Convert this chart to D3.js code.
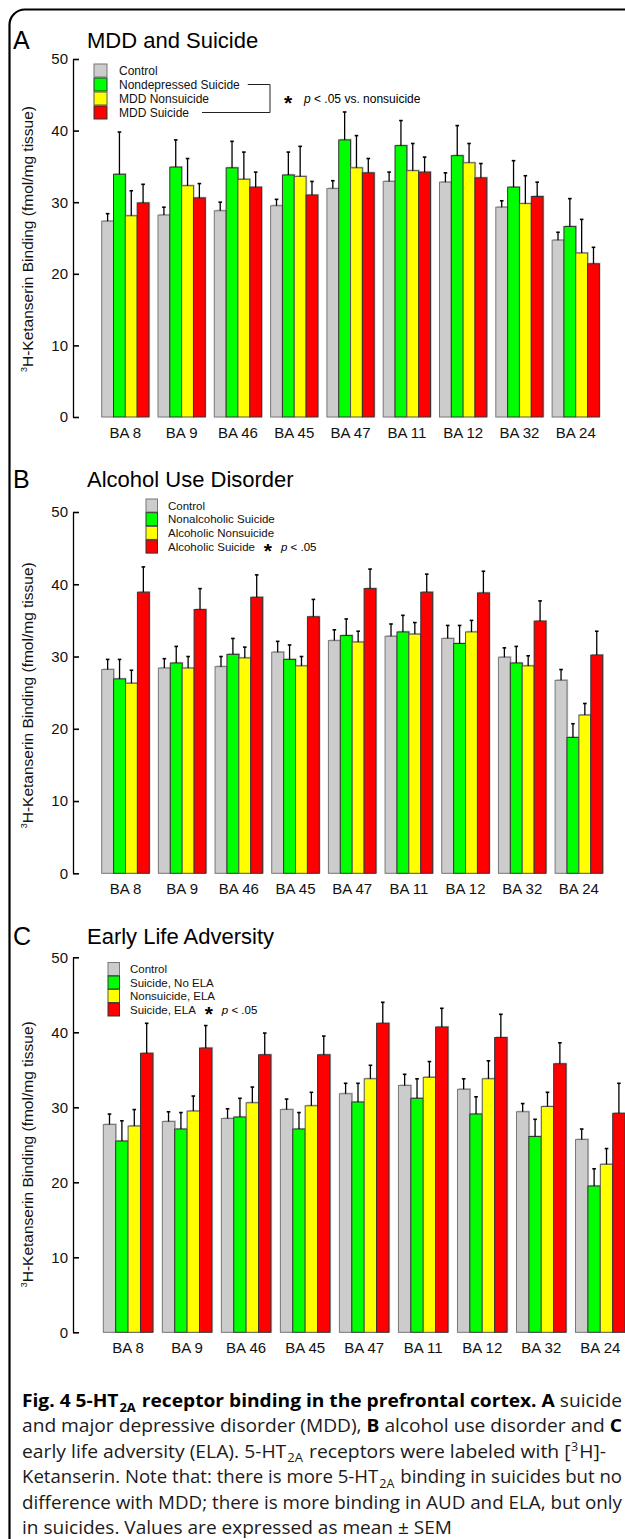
<!DOCTYPE html>
<html>
<head>
<meta charset="utf-8">
<script src="https://cdn.jsdelivr.net/npm/d3@7"></script>
<style>
  body { margin: 0; background: #fff; }
  svg { display: block; }
</style>
</head>
<body>
<script>
// ---- data ----
const regions = ['BA 8', 'BA 9', 'BA 46', 'BA 45', 'BA 47', 'BA 11', 'BA 12', 'BA 32', 'BA 24'];
const seriesColors = ['#cccccc', '#00ff00', '#ffff00', '#ff0000'];
const seriesStrokes = ['#777777', '#333333', '#555555', '#333333'];
const yTicks = [0, 10, 20, 30, 40, 50];

// A: MDD and suicide
const legendA = ['Control', 'Nondepressed Suicide', 'MDD Nonsuicide', 'MDD Suicide'];
const controlA = [27.35, 28.2, 28.8, 29.5, 31.9, 32.9, 32.8, 29.3, 24.7];
const controlA_sem = [1.05, 1.1, 1.2, 0.9, 1.1, 1.3, 1.3, 0.9, 1.1];
const nondepSuicideA = [33.9, 34.9, 34.8, 33.8, 38.7, 37.9, 36.5, 32.1, 26.6];
const nondepSuicideA_sem = [5.9, 3.8, 3.7, 3.2, 3.9, 3.5, 4.2, 3.7, 3.9];
const mddNonsuicideA = [28.1, 32.3, 33.2, 33.6, 34.8, 34.4, 35.5, 29.8, 22.9];
const mddNonsuicideA_sem = [3.5, 3.8, 3.8, 4.2, 4.5, 3.8, 2.7, 3.9, 4.7];
const mddSuicideA = [29.9, 30.6, 32.1, 31.0, 34.1, 34.2, 33.4, 30.8, 21.4];
const mddSuicideA_sem = [2.6, 2.0, 2.1, 1.9, 2.0, 2.1, 2.0, 2.0, 2.3];

// B: alcohol use disorder
const legendB = ['Control', 'Nonalcoholic Suicide', 'Alcoholic Nonsuicide', 'Alcoholic Suicide'];
const controlB = [28.2, 28.4, 28.6, 30.6, 32.2, 32.8, 32.5, 29.9, 26.7];
const controlB_sem = [1.4, 1.3, 1.4, 1.5, 1.5, 1.7, 1.8, 1.3, 1.5];
const nonalcSuicideB = [26.9, 29.1, 30.3, 29.6, 32.9, 33.4, 31.8, 29.1, 18.8];
const nonalcSuicideB_sem = [2.7, 2.3, 2.2, 2.0, 2.3, 2.3, 2.5, 2.3, 1.9];
const alcNonsuicideB = [26.3, 28.4, 29.8, 28.7, 32.0, 33.1, 33.4, 28.7, 21.9];
const alcNonsuicideB_sem = [1.8, 1.6, 1.5, 1.3, 1.5, 1.6, 1.6, 1.4, 1.6];
const alcSuicideB = [38.9, 36.5, 38.2, 35.5, 39.4, 38.9, 38.8, 34.9, 30.2];
const alcSuicideB_sem = [3.5, 2.9, 3.1, 2.4, 2.7, 2.5, 3.0, 2.8, 3.3];

// C: early life adversity
const legendC = ['Control', 'Suicide, No ELA', 'Nonsuicide, ELA', 'Suicide, ELA'];
const controlC = [27.7, 28.1, 28.5, 29.7, 31.8, 32.9, 32.4, 29.4, 25.7];
const controlC_sem = [1.4, 1.3, 1.3, 1.4, 1.4, 1.5, 1.4, 1.1, 1.4];
const suicideNoElaC = [25.5, 27.1, 28.7, 27.1, 30.7, 31.2, 29.1, 26.1, 19.5];
const suicideNoElaC_sem = [2.7, 2.2, 2.5, 2.2, 2.5, 2.6, 2.3, 2.3, 2.3];
const nonsuicideElaC = [27.5, 29.5, 30.6, 30.2, 33.8, 34.0, 33.8, 30.1, 22.4];
const nonsuicideElaC_sem = [2.2, 2.0, 2.1, 1.8, 1.8, 2.1, 2.4, 1.9, 2.1];
const suicideElaC = [37.2, 37.9, 37.0, 37.0, 41.2, 40.7, 39.3, 35.8, 29.2];
const suicideElaC_sem = [4.0, 3.0, 2.9, 2.5, 2.8, 2.5, 3.1, 2.8, 4.0];

const captionLines = [
  [['Fig. 4 5-HT', 'b'], ['2A', 'bsub'], [' receptor binding in the prefrontal cortex.', 'b'], [' '], ['A', 'b'], [' suicide']],
  [['and major depressive disorder (MDD), '], ['B', 'b'], [' alcohol use disorder and '], ['C', 'b']],
  [['early life adversity (ELA). 5-HT'], ['2A', 'sub'], [' receptors were labeled with ['], ['3', 'sup'], ['H]-']],
  [['Ketanserin. Note that: there is more 5-HT'], ['2A', 'sub'], [' binding in suicides but no']],
  [['difference with MDD; there is more binding in AUD and ELA, but only']],
  [['in suicides. Values are expressed as mean \u00b1 SEM']],
];
// right edge each caption line reaches in the figure
const captionRight = [622, 622, 606, 622, 622, 452];

// ---- layout ----
const W = 625, H = 1539;
const FONT = '"Liberation Sans", Arial, Helvetica, sans-serif';

const panels = [
  {
    letter: 'A', title: 'MDD and Suicide', legend: legendA,
    means: [controlA, nondepSuicideA, mddNonsuicideA, mddSuicideA],
    sems: [controlA_sem, nondepSuicideA_sem, mddNonsuicideA_sem, mddSuicideA_sem],
    titleY: 48, yTop: 59, yBottom: 417, xLeft: 101.7, xRight: 599.4,
    legX: 94, legY: 64, legW: 13, legH: 13, legStep: 14, legText: 25, legFont: 12,
    note: 'bracket',
  },
  {
    letter: 'B', title: 'Alcohol Use Disorder', legend: legendB,
    means: [controlB, nonalcSuicideB, alcNonsuicideB, alcSuicideB],
    sems: [controlB_sem, nonalcSuicideB_sem, alcNonsuicideB_sem, alcSuicideB_sem],
    titleY: 487, yTop: 512, yBottom: 873.3, xLeft: 101.7, xRight: 602.7,
    legX: 146, legY: 499, legW: 11.5, legH: 13, legStep: 13.7, legText: 22, legFont: 11.5,
    note: 'inline',
  },
  {
    letter: 'C', title: 'Early Life Adversity', legend: legendC,
    means: [controlC, suicideNoElaC, nonsuicideElaC, suicideElaC],
    sems: [controlC_sem, suicideNoElaC_sem, nonsuicideElaC_sem, suicideElaC_sem],
    titleY: 944, yTop: 957.3, yBottom: 1332.3, xLeft: 103.3, xRight: 625.1,
    legX: 108, legY: 962.5, legW: 11.5, legH: 13, legStep: 13.5, legText: 22, legFont: 11.5,
    note: 'inline',
  },
];

const svg = d3.select('body').append('svg')
  .attr('width', W)
  .attr('height', H)
  .style('font-family', FONT);

// frame
svg.append('path')
  .attr('d', `M9.5,${H} V25 A15.5,15.5 0 0 1 25,9.5 H${W}`)
  .attr('fill', 'none')
  .attr('stroke', '#000')
  .attr('stroke-width', 2.2);

panels.forEach(drawPanel);
drawCaption();

function drawStar(g, cx, baseline) {
  g.append('text')
    .attr('x', cx)
    .attr('y', baseline + 7.5)
    .attr('text-anchor', 'middle')
    .attr('font-size', 21)
    .attr('font-weight', 'bold')
    .text('*');
}

function drawP(g, x, baseline, rest, size) {
  const t = g.append('text')
    .attr('x', x)
    .attr('y', baseline)
    .attr('font-size', size);
  t.append('tspan').attr('font-style', 'italic').text('p');
  t.append('tspan').text(rest);
}

function drawPanel(p) {
  const g = svg.append('g');
  const y = d3.scaleLinear().domain([0, 50]).range([p.yBottom, p.yTop]);
  const x = d3.scaleBand().domain(regions).range([p.xLeft, p.xRight]).paddingInner(0.16);
  const xs = d3.scaleBand().domain(d3.range(4)).range([0, x.bandwidth()]);

  // titles
  g.append('text').attr('x', 13).attr('y', p.titleY + 1).attr('font-size', 25).text(p.letter);
  g.append('text').attr('x', 87).attr('y', p.titleY).attr('font-size', 22).text(p.title);

  // y axis, ticks pointing inward
  const axis = d3.axisLeft(y).tickValues(yTicks).tickSizeInner(-6).tickSizeOuter(0).tickPadding(5);
  const ag = g.append('g').attr('transform', 'translate(73,0)').call(axis);
  ag.attr('font-family', FONT).attr('font-size', 15);
  ag.selectAll('text').attr('fill', '#111');
  ag.select('.domain').attr('stroke', '#000').attr('stroke-width', 1.3);
  ag.selectAll('.tick line').attr('stroke', '#000').attr('stroke-width', 1.6);

  // y axis title
  const ty = g.append('text')
    .attr('transform', `translate(33,${p.yBottom - 178}) rotate(-90)`)
    .attr('text-anchor', 'middle')
    .attr('font-size', 15.5)
    .attr('fill', '#111');
  ty.append('tspan').attr('font-size', 9).attr('dy', -6).text('3');
  ty.append('tspan').attr('dy', 6).text('H-Ketanserin Binding (fmol/mg tissue)');

  // bars
  p.means.forEach((series, s) => {
    const data = regions.map((r, i) => ({ r, v: series[i], e: p.sems[s][i] }));
    const bg = g.append('g');
    const bx = d => x(d.r) + xs(s);
    // soft shadow on the right/top edge
    bg.selectAll('rect.shadow').data(data).join('rect')
      .attr('class', 'shadow')
      .attr('x', d => bx(d) + 1.2)
      .attr('y', d => y(d.v) - 1.2)
      .attr('width', xs.bandwidth())
      .attr('height', d => y(0) - y(d.v) + 1.2)
      .attr('fill', '#c4c4c4');
    bg.selectAll('rect.bar').data(data).join('rect')
      .attr('class', 'bar')
      .attr('x', bx)
      .attr('y', d => y(d.v))
      .attr('width', xs.bandwidth())
      .attr('height', d => y(0) - y(d.v))
      .attr('fill', seriesColors[s])
      .attr('stroke', seriesStrokes[s])
      .attr('stroke-width', 1);
    // error bars (mean + SEM)
    const cx = d => bx(d) + xs.bandwidth() / 2;
    bg.selectAll('line.err').data(data).join('line')
      .attr('class', 'err')
      .attr('x1', cx).attr('x2', cx)
      .attr('y1', d => y(d.v)).attr('y2', d => y(d.v + d.e))
      .attr('stroke', '#000').attr('stroke-width', 1.3);
    bg.selectAll('line.cap').data(data).join('line')
      .attr('class', 'cap')
      .attr('x1', d => cx(d) - 1.8).attr('x2', d => cx(d) + 1.8)
      .attr('y1', d => y(d.v + d.e)).attr('y2', d => y(d.v + d.e))
      .attr('stroke', '#000').attr('stroke-width', 1.6);
  });

  // x labels
  g.selectAll('text.xlab').data(regions).join('text')
    .attr('class', 'xlab')
    .attr('x', d => x(d) + x.bandwidth() / 2)
    .attr('y', p.yBottom + 21)
    .attr('text-anchor', 'middle')
    .attr('font-size', 15)
    .attr('fill', '#111')
    .text(d => d);

  // legend
  const lg = g.append('g');
  const textEnds = [];
  p.legend.forEach((name, i) => {
    const top = p.legY + i * p.legStep;
    lg.append('rect')
      .attr('x', p.legX).attr('y', top)
      .attr('width', p.legW).attr('height', p.legH)
      .attr('fill', seriesColors[i])
      .attr('stroke', seriesStrokes[i]).attr('stroke-width', 1);
    const t = lg.append('text')
      .attr('x', p.legX + p.legText)
      .attr('y', top + p.legH / 2 + p.legFont * 0.36)
      .attr('font-size', p.legFont)
      .attr('fill', '#111')
      .text(name);
    textEnds.push(p.legX + p.legText + t.node().getComputedTextLength());
  });
  const rowMid = i => p.legY + i * p.legStep + p.legH / 2;
  const rowBase = i => rowMid(i) + p.legFont * 0.36;

  if (p.note === 'bracket') {
    const bx = 270;
    lg.append('path')
      .attr('d', `M${textEnds[1] + 8},${rowMid(1)} H${bx} V${rowMid(3)} H${textEnds[3] + 13}`)
      .attr('fill', 'none').attr('stroke', '#222').attr('stroke-width', 1);
    drawStar(lg, 288, rowBase(2));
    drawP(lg, 304, rowBase(2), ' < .05 vs. nonsuicide', p.legFont);
  } else {
    const e = textEnds[3];
    drawStar(lg, e + 13, rowBase(3));
    drawP(lg, e + 26, rowBase(3), ' < .05', p.legFont);
  }
}

function drawCaption() {
  const left = 22;
  const g = svg.append('g')
    .style('font-family', '"Open Sans", "Noto Sans", sans-serif')
    .attr('font-size', 18.5)
    .attr('fill', '#1a1a1a');
  captionLines.forEach((runs, li) => {
    const t = g.append('text')
      .attr('x', left)
      .attr('y', 1407 + li * 25.4);
    let shift = 0;
    runs.forEach(([txt, style]) => {
      const ts = t.append('tspan').text(txt);
      const bold = style === 'b' || style === 'bsub';
      if (bold) ts.attr('font-weight', 'bold').attr('fill', '#000');
      let want = 0;
      if (style === 'sub' || style === 'bsub') { want = 4.5; ts.attr('font-size', 12.5).attr('dx', 1); }
      if (style === 'sup') { want = -7; ts.attr('font-size', 12).attr('dx', 0.5); }
      if (want !== shift) {
        ts.attr('dy', want - shift);
        if (want === 0) ts.attr('dx', 1);
        shift = want;
      }
    });
    t.attr('textLength', captionRight[li] - left)
      .attr('lengthAdjust', 'spacingAndGlyphs');
  });
}
</script>
</body>
</html>
